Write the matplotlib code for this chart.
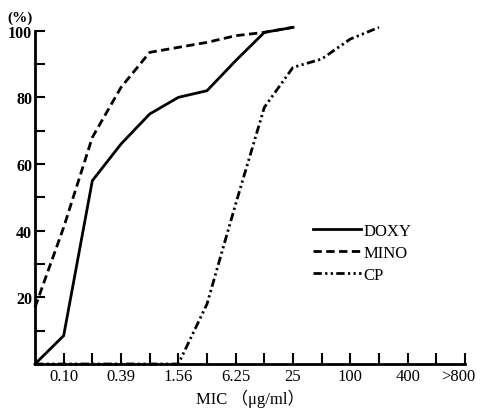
import matplotlib
matplotlib.use("Agg")
import matplotlib.pyplot as plt
import matplotlib.transforms as mtransforms

# ---- data ----
mic_labels = ['0.05', '0.10', '0.20', '0.39', '0.78', '1.56', '3.13', '6.25',
              '12.5', '25', '50', '100', '200', '400', '800', '>800']
shown_labels = ['0.10', '0.39', '1.56', '6.25', '25', '100', '400', '>800']
doxy = [0, 8.5, 55, 66, 75, 80, 82, 91, 99.5, 101]
mino = [17, 41, 68, 83, 93.5, 95, 96.5, 98.5, 99.5, 101]
cp = [0, 0, 0, 0, 0, 0, 18, 48, 77, 89, 91.5, 97.5, 101]
y_ticks = [10, 20, 30, 40, 50, 60, 70, 80, 90, 100]
y_labels = [20, 40, 60, 80, 100]

serif = ['Liberation Serif', 'DejaVu Serif']

fig = plt.figure(figsize=(4.81, 4.10), dpi=100)
ax = fig.add_axes([35/481, 45/410, 430/481, 333.3/410])

lw = 2.0
ax.plot(range(len(doxy)), doxy, color='black', lw=lw, solid_joinstyle='miter',
        clip_on=False, label='DOXY')
ax.plot(range(len(mino)), mino, color='black', lw=lw, dashes=(3.0, 1.6),
        clip_on=False, label='MINO')
ax.plot(range(len(cp)), cp, color='black', lw=lw,
        dashes=(3.0, 1.2, 0.8, 1.2, 0.8, 1.2), clip_on=False, label='CP')

ax.set_xlim(0, len(mic_labels) - 1)
ax.set_ylim(0, 100)

for s in ['top', 'right']:
    ax.spines[s].set_visible(False)
for s in ['left', 'bottom']:
    ax.spines[s].set_linewidth(2.0)

ax.set_xticks(range(1, len(mic_labels)))
ax.set_xticklabels([l if l in shown_labels else '' for l in mic_labels[1:]],
                   fontsize=12, family=serif)
ax.tick_params(axis='x', direction='in', length=8, width=1.5, pad=3)

ax.set_yticks(y_ticks)
ax.set_yticklabels([str(v) if v in y_labels else '' for v in y_ticks],
                   fontsize=11.5, family=serif, fontweight='bold')
ax.tick_params(axis='y', direction='in', length=7, width=1.5, pad=2)

# shift the ">800" label slightly left
lab = ax.get_xticklabels()[-1]
lab.set_transform(lab.get_transform() +
                  mtransforms.ScaledTranslation(-7/100, 0, fig.dpi_scale_trans))

ax.text(-0.005, 1.02, '(%)', transform=ax.transAxes, ha='right', va='bottom',
        fontsize=11, family=serif, fontweight='bold')

ax.set_xlabel('MIC （μg/ml）', fontsize=12,
              family=['Liberation Serif', 'Noto Sans CJK JP'], labelpad=3)

leg = ax.legend(loc='upper left', bbox_to_anchor=(278/430, 1 - (224-31.7)/333.3),
                frameon=False, handlelength=2.9, handletextpad=0.15,
                labelspacing=0.35, borderpad=0, borderaxespad=0,
                prop={'family': serif, 'size': 12})

fig.savefig('out.png', dpi=100)
